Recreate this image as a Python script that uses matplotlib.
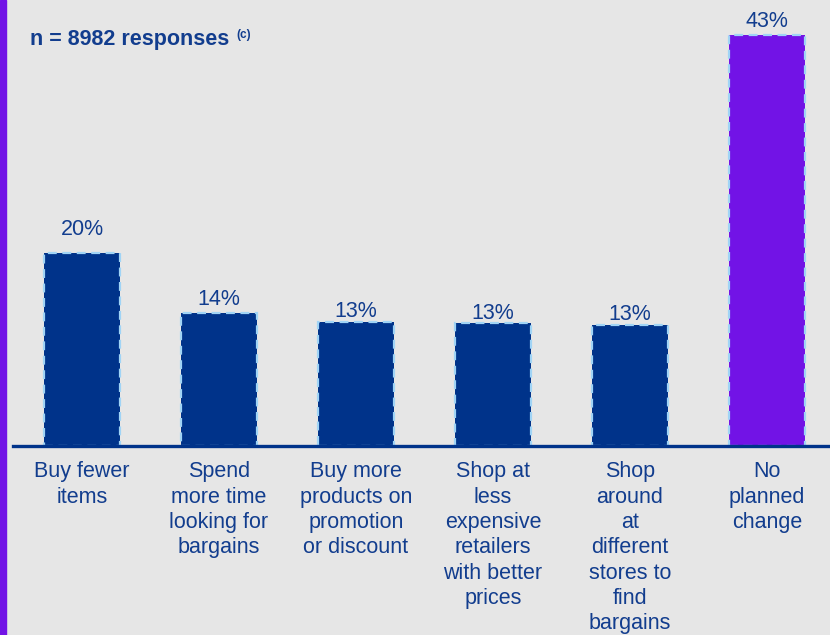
import matplotlib
matplotlib.use("Agg")
import matplotlib.pyplot as plt
from matplotlib.patches import Rectangle

categories = ["Buy fewer\nitems",
              "Spend\nmore time\nlooking for\nbargains",
              "Buy more\nproducts on\npromotion\nor discount",
              "Shop at\nless\nexpensive\nretailers\nwith better\nprices",
              "Shop\naround\nat\ndifferent\nstores to\nfind\nbargains",
              "No\nplanned\nchange"]
values = [20.2, 13.9, 13.0, 12.9, 12.7, 43.0]
value_labels = ["20%", "14%", "13%", "13%", "13%", "43%"]
title = "n = 8982 responses"

BG = "#e6e6e6"
BLUE = "#00338a"
PURPLE = "#7213e6"
TEXT = "#123d8e"
EDGE = "#a0d4f6"

plt.rcParams['font.family'] = ['Liberation Sans', 'DejaVu Sans']

W, H = 830, 635
fig = plt.figure(figsize=(W/100, H/100), dpi=100, facecolor=BG)

ax = fig.add_axes([13/W, (H-446)/H, (W-13)/W, 446/H])
ax.set_facecolor(BG)
ax.set_xlim((13-82)/137, (830-82)/137)
ax.set_ylim(0, 43*446/411)
for s in ax.spines.values():
    s.set_visible(False)
ax.set_xticks([])
ax.set_yticks([])

colors = [BLUE]*5 + [PURPLE]
xs = list(range(len(values)))
ax.bar(xs, values, width=0.555, color=colors, edgecolor=EDGE,
       linewidth=1.6, linestyle=(0, (4, 2.5)), zorder=2)
ax.axhline(0, color=BLUE, linewidth=2.4, zorder=3, clip_on=False)

label_offsets = [9, 2, 0, -1, 0, 2]
for x, v, lab, off in zip(xs, values, value_labels, label_offsets):
    ax.annotate(lab, (x, v), xytext=(0, off), textcoords="offset points",
                ha="center", va="bottom", fontsize=15.5, color=TEXT)

for x, c in zip(xs, categories):
    ax.annotate(c, (x, 0), xytext=(0, -11), textcoords="offset points",
                ha="center", va="top", fontsize=15.5, color=TEXT,
                linespacing=1.27, annotation_clip=False)

fig.patches.append(Rectangle((0, 0), 6/W, 1, transform=fig.transFigure,
                             color=PURPLE, zorder=0))

fig.text(30/W, 1-39/H, title, fontsize=15.5, fontweight="bold", color=TEXT,
         ha="left", va="center")
fig.text(236/W, 1-35/H, "(c)", fontsize=8.5, fontweight="bold", color=TEXT,
         ha="left", va="center")

fig.savefig("out.png", dpi=100, facecolor=BG)
